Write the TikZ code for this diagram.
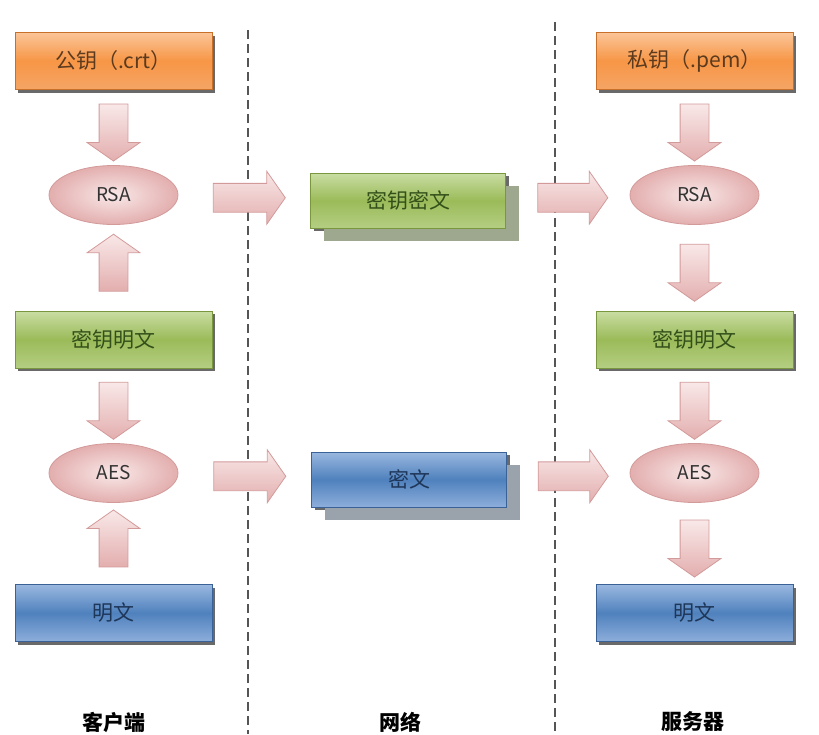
\documentclass[tikz,border=0pt]{standalone}
\usepackage{fontspec}
\setmainfont{Noto Sans CJK SC}
\usetikzlibrary{shapes.geometric, shapes.arrows, shadows, calc}
\definecolor{orgtop}{HTML}{FBC598}
\definecolor{orgmid}{HTML}{F79646}
\definecolor{orgbot}{HTML}{F5A566}
\definecolor{orgline}{HTML}{C8702A}
\definecolor{orgtext}{HTML}{5C3A1E}
\definecolor{grntop}{HTML}{C9DDA3}
\definecolor{grnmid}{HTML}{9BBB59}
\definecolor{grnbot}{HTML}{B4CE82}
\definecolor{grnline}{HTML}{7A963F}
\definecolor{grntext}{HTML}{33501A}
\definecolor{blutop}{HTML}{9AB8E0}
\definecolor{blumid}{HTML}{4F81BD}
\definecolor{blubot}{HTML}{8DAEDB}
\definecolor{bluline}{HTML}{3A6296}
\definecolor{blutext}{HTML}{1E3658}
\definecolor{pinkin}{HTML}{F9E8E8}
\definecolor{pinkout}{HTML}{E3AEAE}
\definecolor{pinkline}{HTML}{D39A9A}
\definecolor{dashgray}{HTML}{555555}
\definecolor{grnshade}{HTML}{9EA88E}
\definecolor{blushade}{HTML}{9AA2AB}
\tikzstyle{box} = [rectangle, minimum width=197pt, minimum height=57pt, line width=0.8pt, font=\fontsize{21}{21}\selectfont]
\tikzstyle{thin} = [drop shadow={shadow xshift=3pt, shadow yshift=-3pt, fill=black!65, opacity=0.9}]
\tikzstyle{orgbox} = [box, thin, draw=orgline, top color=orgtop, bottom color=orgbot, middle color=orgmid, text=orgtext]
\tikzstyle{grnbox} = [box, thin, draw=grnline, top color=grntop, bottom color=grnbot, middle color=grnmid, text=grntext]
\tikzstyle{blubox} = [box, thin, draw=bluline, top color=blutop, bottom color=blubot, middle color=blumid, text=blutext]
\tikzstyle{net} = [minimum width=195pt, minimum height=55pt]
\tikzstyle{alg} = [ellipse, draw=pinkline, line width=0.8pt, inner color=pinkin, outer color=pinkout, minimum width=129pt, minimum height=59pt, font=\fontsize{19}{19}\selectfont, text=black!80]
\tikzstyle{fat} = [single arrow, draw=pinkline, line width=0.8pt, top color=pinkin, bottom color=pinkout, inner xsep=0pt, inner ysep=14pt, single arrow head extend=12pt, single arrow tip angle=110]
\tikzstyle{sep} = [dashgray, line width=1.3pt, dash pattern=on 9pt off 5pt]
\tikzstyle{lab} = [font=\fontsize{21}{21}\selectfont\bfseries]

\begin{document}
\begin{tikzpicture}[x=1pt, y=-1pt]
  \useasboundingbox (0,0) rectangle (819,734);
  \draw[sep] (248,30) -- (248,734);
  \draw[sep] (555,22) -- (555,734);

  \node[orgbox] (k1) at (113.5,61) {公钥（.crt）};
  \node[alg] (r1) at (113.5,195) {RSA};
  \node[grnbox] (m1) at (113.5,339.5) {密钥明文};
  \node[alg] (a1) at (113.5,473) {AES};
  \node[blubox] (p1) at (113.5,613) {明文};

  \node[grnbox, net, drop shadow={shadow xshift=13pt, shadow yshift=-13pt, fill=grnshade, opacity=1}] (c1) at (408,200.5) {密钥密文};
  \node[blubox, net, drop shadow={shadow xshift=13pt, shadow yshift=-13pt, fill=blushade, opacity=1}] (c2) at (409,479.5) {密文};

  \node[orgbox] (k2) at (694.5,61) {私钥（.pem）};
  \node[alg] (r2) at (694.5,195) {RSA};
  \node[grnbox] (m2) at (694.5,339.5) {密钥明文};
  \node[alg] (a2) at (694.5,473) {AES};
  \node[blubox] (p2) at (694.5,613) {明文};

  \foreach \a/\b/\r/\l [count=\i] in {k1.south/r1.north/-90/57, m1.north/r1.south/90/57, m1.south/a1.north/-90/57, p1.north/a1.south/90/57,
      r1.east/c1.west/0/72, a1.east/c2.west/0/72, c1.east/r2.west/0/70, c2.east/a2.west/0/70,
      k2.south/r2.north/-90/57, r2.south/m2.north/-90/57, m2.south/a2.north/-90/57, a2.south/p2.north/-90/57}
    \node[fat, minimum height=\l pt, rotate=\r] (f\i) at ($(\a)!0.5!(\b)$) {};

  \node[lab] (t1) at (113.5,722) {客户端};
  \node[lab] (t2) at (400,722) {网络};
  \node[lab] (t3) at (693,722) {服务器};
\end{tikzpicture}
\end{document}
